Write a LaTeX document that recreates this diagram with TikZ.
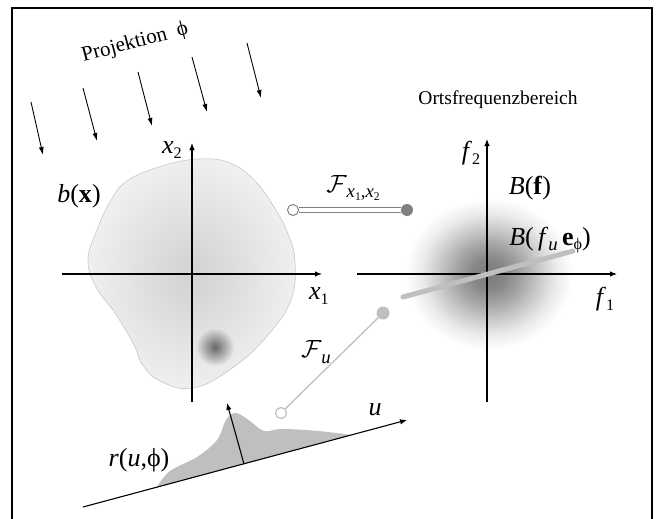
\documentclass[tikz,border=0pt]{standalone}
\usepackage{fontspec}
\setmainfont{Liberation Serif}
\usepackage{graphicx}
\usetikzlibrary{arrows.meta,fadings}
\newcommand\lsub[1]{\raisebox{-0.4ex}{\scalebox{0.62}{#1}}}
\newcommand\lsubb[1]{\raisebox{-0.45ex}{\scalebox{0.72}{#1}}}
\tikzfading[name=spotfade, inner color=transparent!45, outer color=transparent!100]
\pgfdeclareradialshading{gausssh}{\pgfpointorigin}{color(0bp)=(black!52); color(5bp)=(black!47); color(10bp)=(black!35); color(15bp)=(black!21); color(20bp)=(black!8); color(25bp)=(white); color(50bp)=(white)}
\pgfdeclareradialshading{blobsh}{\pgfpointorigin}{color(0bp)=(black!18); color(25bp)=(black!6); color(50bp)=(black!6)}
\begin{document}
\begin{tikzpicture}[x=1pt,y=-1pt,
  lbl/.style={inner sep=0pt, font=\fontsize{26}{30}\selectfont},
  txt/.style={inner sep=0pt, font=\fontsize{19.5}{23}\selectfont},
  axis/.style={line width=1.1pt, -{Latex[length=7pt,width=5.5pt]}},
  proj/.style={line width=0.9pt, -{Latex[length=8pt,width=5pt]}},
  ]
\useasboundingbox (0,0) rectangle (659,519);
% frame
\draw[line width=2pt] (12,519) -- (12,8) -- (652,8) -- (652,519);
% frequency-domain spectrum
\shade[shading=gausssh] (489,274) ellipse (84 and 76);
% object blob
\shade[shading=blobsh, draw=black!22, line width=0.6pt] plot[smooth cycle, tension=0.7] coordinates {
 (199,159) (230,163) (255,181) (274,207) (288,234) (295,262) (291,300) (268,335)
 (235,366) (194,388) (160,381) (142,364) (134,345) (115,313) (96,287) (88,260)
 (97,230) (110,202) (127,181) (162,166)};
\fill[black, path fading=spotfade] (215,347) circle (19);
% projection arrows
\foreach \a/\b/\c/\d in {31/102/43/155, 83/88/97/141, 138/72/152/126, 192/57/207/112, 247/43/261/98}
  \draw[proj] (\a,\b) -- (\c,\d);
% axes
\draw[axis] (192,402) -- (192,143);
\draw[axis] (62,274) -- (322,274);
\draw[axis] (487,402) -- (487,139);
\draw[axis] (357,274) -- (617,274);
\draw[line width=5pt, black!25, line cap=round] (403,297) -- (573,251);
% Fourier connectors
\node[circle, draw=black!50, fill=white, line width=1pt, minimum size=11pt, inner sep=0pt] (a1) at (293,210) {};
\node[circle, fill=black!50, minimum size=12pt, inner sep=0pt] (b1) at (407,210) {};
\draw[black!50, double=white, double distance=3.5pt, line width=1pt] (a1) -- (b1);
\node[circle, draw=black!25, fill=white, line width=1.2pt, minimum size=11pt, inner sep=0pt] (a2) at (281,413) {};
\node[circle, fill=black!25, minimum size=13pt, inner sep=0pt] (b2) at (383,313) {};
\draw[black!25, line width=1.3pt] (a2) -- (b2);
% projection profile
\fill[black!25] plot[smooth, tension=0.6] coordinates {(157,487) (170,471) (197,457) (217,440) (226,420) (236,413) (250,421) (264,431) (282,429) (318,431) (352,435)} -- cycle;
\coordinate (u0) at (83,507);
\coordinate (u1) at (407,420);
\draw[axis] (u0) -- (u1);
\draw[axis] (244,464) -- (227,403);
% labels
\node[txt, rotate=15, font=\fontsize{21}{25}\selectfont] (tproj) at (135,43) {Projektion~~ϕ};
\node[txt] (tofb) at (498,100) {Ortsfrequenzbereich};
\node[lbl] (tb) at (79,196) {\textit{b}(\textbf{x})};
\node[lbl] (tx2) at (172,150) {\textit{x}\lsub{2}};
\node[lbl] (tx1) at (319,296) {\textit{x}\lsub{1}};
\node[lbl] (tf2) at (471,153) {\textit{f}\lsub{2}};
\node[lbl] (tf1) at (605,299) {\textit{f}\lsub{1}};
\node[lbl] (tB) at (530,188) {\textit{B}(\textbf{f})};
\node[lbl] (tBu) at (550,240) {\textit{B}(\,\textit{f}\lsubb{\textit{u}}\,\textbf{e}\lsub{ϕ})};
\node[lbl] (tFx) at (353,188) {$\mathcal{F}$\lsubb{\textit{x}\lsub{1},\textit{x}\lsub{2}}};
\node[lbl] (tFu) at (316,352) {$\mathcal{F}$\lsubb{\textit{u}}};
\node[lbl] (tu) at (375,410) {\textit{u}};
\node[lbl] (tr) at (139,460) {\textit{r}(\textit{u},ϕ)};
\end{tikzpicture}
\end{document}
